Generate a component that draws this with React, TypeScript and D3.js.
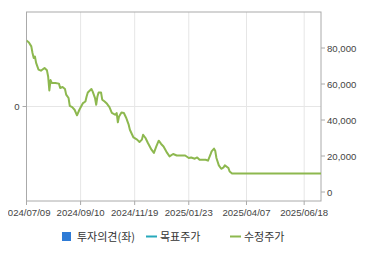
import React from "react";
import * as d3 from "d3";

// trading-day index (from 2024/07/09) and adjusted price
const dayIndex = [
  0, 2, 4, 5, 6, 7, 8, 10, 12, 15, 17, 18, 19, 20, 21, 24, 27, 28, 30, 32, 33, 35, 36, 38, 40, 42, 44,
  47, 49, 50, 51, 54, 55, 57, 58, 59, 60, 62, 63, 65, 67, 69, 71, 74, 75, 76, 77, 79, 81, 83, 84, 85,
  86, 89, 92, 94, 96, 97, 99, 101, 104, 106, 108, 110, 112, 114, 117, 119, 122, 125, 129, 132, 135,
  137, 140, 142, 144, 149, 151, 153, 154, 156, 157, 158, 160, 162, 164, 165, 168, 169, 171, 245,
];
const adjPrice = [
  84200, 83100, 80900, 77200, 74400, 75300, 71700, 68000, 67400, 68900, 67600, 64200, 56400, 62200,
  60600, 60600, 60200, 57800, 58300, 57200, 54100, 52200, 47900, 47200, 45700, 42600, 45700, 49400,
  50300, 53100, 55300, 57200, 55900, 52200, 48500, 53100, 55300, 55300, 51300, 50300, 49000, 47200,
  43900, 42900, 43900, 38700, 42000, 44200, 43900, 41100, 39200, 37400, 34600, 30300, 29100, 27800,
  29100, 31800, 30000, 27200, 23500, 21700, 25300, 28500, 26700, 25300, 21700, 19800, 21100, 20300,
  20300, 20300, 18900, 19200, 18500, 19200, 17900, 17900, 17400, 20700, 22600, 24100, 22900, 18900,
  14800, 12900, 13700, 14800, 13300, 11400, 10300, 10300,
];
const tickLabels = ["2024/07/09", "2024/09/10", "2024/11/19", "2025/01/23", "2025/04/07", "2025/06/18"];
const tickIndex = [0, 45, 90, 135, 183, 231];
const rightTicks = [0, 20000, 40000, 60000, 80000];
const leftTicks = [0];
const legendLabels = ["투자의견(좌)", "목표주가", "수정주가"];

export default function App() {
  const W = 370, H = 255;
  const L = 26.5, R = 321, T = 12, B = 201;
  const x = d3.scaleLinear().domain([0, 245]).range([L, R]);
  const y = d3.scaleLinear().domain([-5000, 100000]).range([B, T]);
  const yl = d3.scaleLinear().domain([-1, 1]).range([B, T]);
  const pts = dayIndex.map((d, i) => [d, adjPrice[i]] as [number, number]);
  const line = d3.line<[number, number]>().x((d) => x(d[0])).y((d) => y(d[1]));
  const fmt = d3.format(",");
  const font = "'Liberation Sans', Arial, sans-serif";
  const kfont = "'Noto Sans CJK KR', sans-serif";
  return (
    <svg width={W} height={H} style={{ position: "absolute", left: 0, top: 0, background: "#fff" }}>
      <defs>
        <clipPath id="pc">
          <rect x={L} y={T} width={R - L} height={B - T} />
        </clipPath>
        <clipPath id="lc">
          <rect x={8} y={0} width={W - 8} height={H} />
        </clipPath>
      </defs>
      {tickIndex.map((t, i) => (
        <g key={i}>
          <line x1={x(t)} x2={x(t)} y1={T} y2={B} stroke="#e6e6e6" />
          <line x1={x(t)} x2={x(t)} y1={B} y2={B + 4} stroke="#aaa" />
          <text x={x(t)} y={216} fontSize={9.6} fontFamily={font} fill="#444" textAnchor="middle" clipPath="url(#lc)">
            {tickLabels[i]}
          </text>
        </g>
      ))}
      {leftTicks.map((t, i) => (
        <g key={i}>
          <line x1={L} x2={R} y1={yl(t)} y2={yl(t)} stroke="#e6e6e6" />
          <line x1={L - 4} x2={L} y1={yl(t)} y2={yl(t)} stroke="#aaa" />
          <text x={L - 7} y={yl(t) + 3.5} fontSize={9.6} fontFamily={font} fill="#444" textAnchor="end">
            {t}
          </text>
        </g>
      ))}
      {rightTicks.map((t, i) => (
        <g key={i}>
          <line x1={R} x2={R + 4} y1={y(t)} y2={y(t)} stroke="#aaa" />
          <text x={R + 6} y={y(t) + 3.5} fontSize={9.6} fontFamily={font} fill="#444">
            {fmt(t)}
          </text>
        </g>
      ))}
      <rect x={L} y={T} width={R - L} height={B - T} fill="none" stroke="#aaa" />
      <path d={line(pts) || ""} fill="none" stroke="#8db84f" strokeWidth={2} strokeLinejoin="round" clipPath="url(#pc)" />
      <g fontFamily={kfont} fontSize={11} fill="#333">
        <rect x={62} y={232} width={9} height={9} fill="#2e7bd6" />
        <text x={77} y={240.5}>{legendLabels[0]}</text>
        <line x1={146} x2={157} y1={236.5} y2={236.5} stroke="#27a9bb" strokeWidth={2} />
        <text x={160} y={240.5}>{legendLabels[1]}</text>
        <line x1={230} x2={241} y1={236.5} y2={236.5} stroke="#8db84f" strokeWidth={2} />
        <text x={244} y={240.5}>{legendLabels[2]}</text>
      </g>
    </svg>
  );
}
